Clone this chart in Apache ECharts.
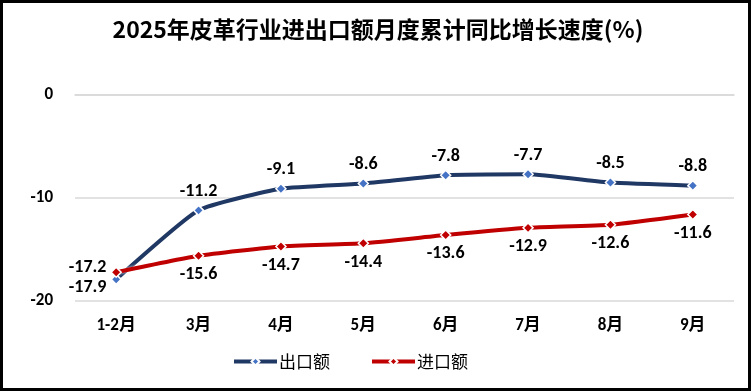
<!DOCTYPE html>
<html><head><meta charset="utf-8">
<script src="https://cdn.jsdelivr.net/npm/echarts@6/dist/echarts.min.js"></script>
<style>html,body{margin:0;padding:0;background:#fff}#c{width:756px;height:392px}</style>
</head><body><div id="c"></div>
<script>
const categories = ['1-2月','3月','4月','5月','6月','7月','8月','9月'];
const exportVals = [-17.9,-11.2,-9.1,-8.6,-7.8,-7.7,-8.5,-8.8];
const importVals = [-17.2,-15.6,-14.7,-14.4,-13.6,-12.9,-12.6,-11.6];
const seriesNames = ['出口额','进口额'];
const titleText = '2025年皮革行业进出口额月度累计同比增长速度(%)';

const numFont = "Calibri, 'Liberation Sans', 'Noto Sans CJK SC', sans-serif";
const chart = echarts.init(document.getElementById('c'));

function mkData(vals, firstPos, firstOffset){
  return vals.map((v,i)=> i===0 ? {value:v, label:{position:firstPos, offset:firstOffset}} : v);
}
chart.setOption({
  animation:false,
  title:{text:titleText,left:'center',top:13,
    textStyle:{fontFamily:"'Noto Sans CJK SC', sans-serif",fontWeight:'bold',fontSize:23,color:'#000'}},
  grid:{left:75,right:22,top:95,bottom:91},
  legend:{left:232,top:353,padding:0,itemGap:40,itemWidth:43,itemHeight:10,
    lineStyle:{width:4},
    textStyle:{fontFamily:"'Noto Sans CJK SC', sans-serif",fontSize:17,color:'#000',padding:[0,0,0,-3]},
    data:seriesNames},
  xAxis:{type:'category',data:categories,boundaryGap:true,
    axisLine:{show:true,lineStyle:{color:'#d9d9d9',width:1.5}},axisTick:{show:false},
    axisLabel:{margin:16,fontFamily:numFont,fontWeight:'bold',fontSize:17,color:'#000'}},
  yAxis:{type:'value',min:-20,max:0,interval:10,
    axisLine:{show:false},axisTick:{show:false},
    splitLine:{lineStyle:{color:'#d9d9d9',width:1.5}},
    axisLabel:{margin:22,fontFamily:numFont,fontWeight:'bold',fontSize:17,color:'#000'}},
  graphic:[{type:'rect',shape:{x:1.5,y:1.5,width:748,height:388},
    style:{fill:null,stroke:'#000',lineWidth:3},silent:true}],
  series:[
    {name:seriesNames[0],type:'line',data:mkData(exportVals,'left',[0,8]),smooth:0.15,
     symbol:'diamond',symbolSize:10,
     lineStyle:{color:'#203864',width:4,shadowColor:'rgba(255,255,255,0.9)',shadowBlur:3},
     itemStyle:{color:'#4472C4',borderColor:'#fff',borderWidth:1.5},
     label:{show:true,position:'top',distance:4,fontFamily:numFont,fontWeight:'bold',fontSize:18,color:'#000'},
     z:3},
    {name:seriesNames[1],type:'line',data:mkData(importVals,'left',[0,-5]),smooth:0.15,
     symbol:'diamond',symbolSize:10,
     lineStyle:{color:'#C00000',width:4,shadowColor:'rgba(255,255,255,0.9)',shadowBlur:3},
     itemStyle:{color:'#C00000',borderColor:'#fff',borderWidth:1.5},
     label:{show:true,position:'bottom',distance:4,fontFamily:numFont,fontWeight:'bold',fontSize:18,color:'#000'},
     z:4}
  ]
});
</script></body></html>
